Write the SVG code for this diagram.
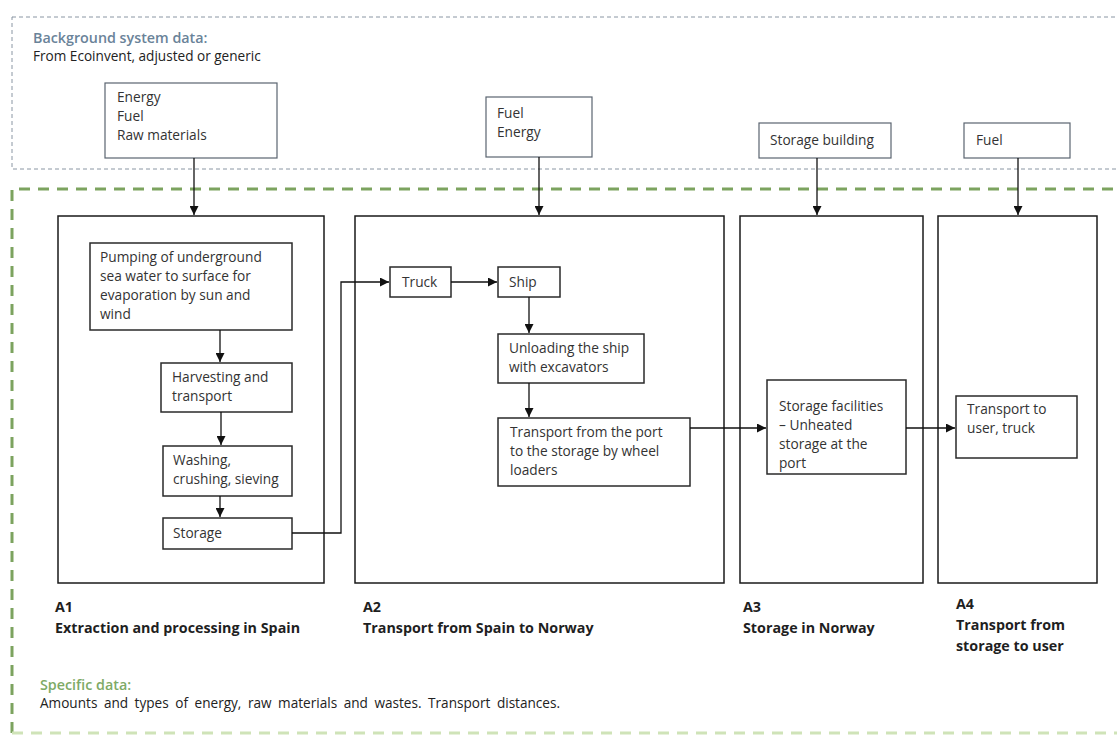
<svg xmlns="http://www.w3.org/2000/svg" width="1117" height="737" viewBox="0 0 1117 737">
<style>
  .bg { fill: none; stroke: #8a96a3; stroke-width: 1; stroke-dasharray: 4 3; }
  .spec { fill: none; stroke: #7ca35f; stroke-width: 3; stroke-dasharray: 11 8; }
  .spec-faint { fill: none; stroke: #cfe3b8; stroke-width: 3; stroke-dasharray: 11 8; }
  .src { fill: #ffffff; stroke: #5a6470; stroke-width: 1.2; }
  .stage { fill: #ffffff; stroke: #1a1a1a; stroke-width: 1.5; }
  .step { fill: #ffffff; stroke: #2a2a2a; stroke-width: 1.5; }
  .t { font-family: "Open Sans", "Liberation Sans", sans-serif; font-size: 13.7px; fill: #333333; }
  .note { font-family: "Open Sans", "Liberation Sans", sans-serif; font-size: 13.6px; fill: #222222; }
  .hdr { font-family: "Open Sans", "Liberation Sans", sans-serif; font-size: 14.3px; font-weight: 600; }
  .lbl { font-family: "Open Sans", "Liberation Sans", sans-serif; font-size: 14.3px; font-weight: 700; fill: #1f1f1f; }
  .conn { fill: none; stroke: #111111; stroke-width: 1.3; }
</style>
<defs>
  <marker id="arr" viewBox="0 0 10 10" refX="10" refY="5" markerWidth="9" markerHeight="9" markerUnits="userSpaceOnUse" orient="auto">
    <path d="M0,0 L10,5 L0,10 z" fill="#111111"/>
  </marker>
</defs>
<rect width="1117" height="737" fill="#ffffff"/>

<g id="background-system">
  <rect class="bg" x="12" y="17" width="1120" height="152"/>
  <text class="hdr" x="33" y="43" fill="#6a8399">Background system data:</text>
  <text class="note" x="33" y="61">From Ecoinvent, adjusted or generic</text>
</g>

<g id="specific-system">
  <path class="spec" d="M12,733 V189 H1130"/>
  <path class="spec-faint" d="M12,733 H1130"/>
  <text class="hdr" x="40" y="690" fill="#7eaa66">Specific data:</text>
  <text class="note" x="40" y="708" word-spacing="3">Amounts and types of energy, raw materials and wastes. Transport distances.</text>
</g>

<g id="src-energy-fuel-raw">
  <rect class="src" x="105" y="83" width="172" height="75"/>
  <text class="t" x="117" y="102">Energy</text>
  <text class="t" x="117" y="121">Fuel</text>
  <text class="t" x="117" y="140">Raw materials</text>
</g>
<g id="src-fuel-energy">
  <rect class="src" x="486" y="97" width="106" height="60"/>
  <text class="t" x="497" y="118">Fuel</text>
  <text class="t" x="497" y="137">Energy</text>
</g>
<g id="src-storage-building">
  <rect class="src" x="759" y="123" width="132" height="35"/>
  <text class="t" x="770" y="145">Storage building</text>
</g>
<g id="src-fuel">
  <rect class="src" x="964" y="123" width="106" height="35"/>
  <text class="t" x="976" y="145">Fuel</text>
</g>

<g id="A1">
  <rect class="stage" x="58" y="216" width="266" height="367"/>
  <text class="lbl" x="55" y="612">A1</text>
  <text class="lbl" x="55" y="633">Extraction and processing in Spain</text>
</g>
<g id="A2">
  <rect class="stage" x="355" y="216" width="369" height="367"/>
  <text class="lbl" x="363" y="612">A2</text>
  <text class="lbl" x="363" y="633">Transport from Spain to Norway</text>
</g>
<g id="A3">
  <rect class="stage" x="740" y="216" width="183" height="367"/>
  <text class="lbl" x="743" y="612">A3</text>
  <text class="lbl" x="743" y="633">Storage in Norway</text>
</g>
<g id="A4">
  <rect class="stage" x="938" y="216" width="159" height="367"/>
  <text class="lbl" x="956" y="609">A4</text>
  <text class="lbl" x="956" y="630">Transport from</text>
  <text class="lbl" x="956" y="651">storage to user</text>
</g>

<g id="pumping">
  <rect class="step" x="90" y="243" width="202" height="87"/>
  <text class="t" x="100" y="262">Pumping of underground</text>
  <text class="t" x="100" y="281">sea water  to surface for</text>
  <text class="t" x="100" y="300">evaporation by sun and</text>
  <text class="t" x="100" y="319">wind</text>
</g>
<g id="harvesting">
  <rect class="step" x="161" y="363" width="131" height="49"/>
  <text class="t" x="172" y="382">Harvesting and</text>
  <text class="t" x="172" y="401">transport</text>
</g>
<g id="washing">
  <rect class="step" x="163" y="446" width="129" height="50"/>
  <text class="t" x="173" y="465">Washing,</text>
  <text class="t" x="173" y="484">crushing, sieving</text>
</g>
<g id="storage">
  <rect class="step" x="163" y="518" width="129" height="31"/>
  <text class="t" x="173" y="538">Storage</text>
</g>
<g id="truck">
  <rect class="step" x="390" y="267" width="61" height="30"/>
  <text class="t" x="402" y="287">Truck</text>
</g>
<g id="ship">
  <rect class="step" x="498" y="267" width="62" height="30"/>
  <text class="t" x="509" y="287">Ship</text>
</g>
<g id="unloading">
  <rect class="step" x="498" y="334" width="146" height="49"/>
  <text class="t" x="509" y="353">Unloading the ship</text>
  <text class="t" x="509" y="372">with excavators</text>
</g>
<g id="port-transport">
  <rect class="step" x="498" y="418" width="192" height="68"/>
  <text class="t" x="510" y="437">Transport from the port</text>
  <text class="t" x="510" y="456">to the  storage by wheel</text>
  <text class="t" x="510" y="475">loaders</text>
</g>
<g id="storage-facilities">
  <rect class="step" x="767" y="380" width="139" height="94"/>
  <text class="t" x="779" y="411">Storage facilities</text>
  <text class="t" x="779" y="430">– Unheated</text>
  <text class="t" x="779" y="449">storage at the</text>
  <text class="t" x="779" y="468">port</text>
</g>
<g id="user-transport">
  <rect class="step" x="956" y="396" width="121" height="62"/>
  <text class="t" x="967" y="414">Transport to</text>
  <text class="t" x="967" y="433">user, truck</text>
</g>

<g id="connectors">
  <path class="conn" d="M194,158 V215" marker-end="url(#arr)"/>
  <path class="conn" d="M539,157 V215" marker-end="url(#arr)"/>
  <path class="conn" d="M817,158 V215" marker-end="url(#arr)"/>
  <path class="conn" d="M1018,158 V215" marker-end="url(#arr)"/>
  <path class="conn" d="M220,330 V362" marker-end="url(#arr)"/>
  <path class="conn" d="M221,412 V445" marker-end="url(#arr)"/>
  <path class="conn" d="M220,496 V517" marker-end="url(#arr)"/>
  <path class="conn" d="M292,533 H341 V282 H389" marker-end="url(#arr)"/>
  <path class="conn" d="M451,282 H497" marker-end="url(#arr)"/>
  <path class="conn" d="M529,297 V333" marker-end="url(#arr)"/>
  <path class="conn" d="M529,383 V417" marker-end="url(#arr)"/>
  <path class="conn" d="M690,428 H766" marker-end="url(#arr)"/>
  <path class="conn" d="M906,428 H955" marker-end="url(#arr)"/>
</g>
</svg>
